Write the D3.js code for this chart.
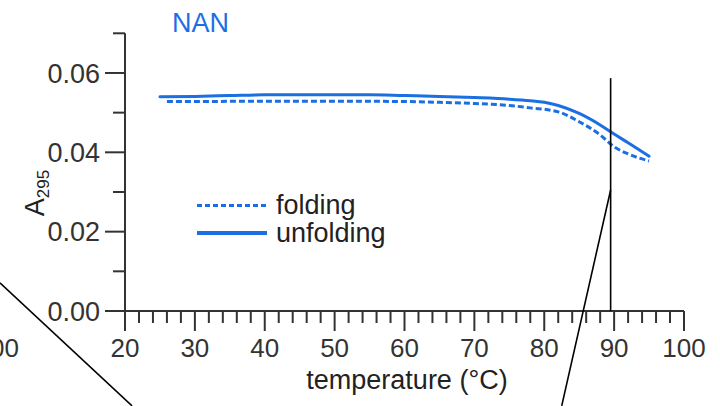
<!DOCTYPE html>
<html>
<head>
<meta charset="utf-8">
<script src="https://cdn.jsdelivr.net/npm/d3@7"></script>
<style>
  html, body { margin: 0; padding: 0; background: #fff; }
  svg { display: block; font-family: "Liberation Sans", Arial, Helvetica, sans-serif; }
</style>
</head>
<body>
<svg id="chart" width="720" height="406"></svg>
<script>
// Absorbance at 295 nm of NAN while heating (unfolding) and cooling (folding)
const unfoldT = [25, 30, 35, 40, 45, 50, 55, 60, 65, 70, 75, 78, 80, 82, 85, 88, 90, 92, 95];
const unfoldA = [0.0540, 0.0541, 0.0543, 0.0545, 0.0545, 0.0545, 0.0545, 0.0543, 0.0541, 0.0538, 0.0534, 0.0530, 0.0526, 0.0518, 0.0498, 0.0469, 0.0446, 0.0424, 0.0390];
const foldT = [26, 30, 40, 50, 60, 65, 70, 75, 78, 82, 85, 88, 90, 92, 95];
const foldA = [0.0528, 0.0528, 0.0529, 0.0529, 0.0528, 0.0526, 0.0523, 0.0518, 0.0512, 0.0502, 0.0477, 0.0444, 0.0414, 0.0396, 0.0378];

const xTicks = [20, 30, 40, 50, 60, 70, 80, 90, 100];
const yTicks = [0.00, 0.02, 0.04, 0.06];
const legendLabels = ["folding", "unfolding"];

// inset guide lines (temperature, absorbance)
const guideVertical = [[89.5, 0.0587], [89.5, 0]];
const guideRight = [[89.5, 0.0305], [82.5, -0.0239]];
const guideLeft = [[2.1, 0.0071], [21.0, -0.0239]];

const blue = "#1c6fe3";
const ink = "#333";
const fontSize = 26;

const svg = d3.select("#chart");

const x = d3.scaleLinear().domain([20, 100]).range([125, 684]);
const y = d3.scaleLinear().domain([0, 0.07]).range([311, 33.3]);

// y axis: ticks every 0.01, labels every 0.02
const yAxis = svg.append("g").attr("transform", `translate(${x(20)},0)`);
yAxis.append("line")
  .attr("x1", 0).attr("x2", 0).attr("y1", y(0.07)).attr("y2", y(0))
  .attr("stroke", ink).attr("stroke-width", 2);
const yMinor = d3.range(0, 8).map(i => i / 100);
yAxis.selectAll("line.tick").data(yMinor).join("line")
  .attr("class", "tick")
  .attr("x1", d => (Math.round(d * 100) % 2 === 0 ? -20 : -12)).attr("x2", 0)
  .attr("y1", d => y(d)).attr("y2", d => y(d))
  .attr("stroke", ink).attr("stroke-width", 2);
yAxis.selectAll("text").data(yTicks).join("text")
  .attr("x", -25).attr("y", d => y(d)).attr("dy", "0.36em")
  .attr("text-anchor", "end").attr("fill", ink)
  .attr("font-size", 27)
  .text(d3.format(".2f"));

// x axis: minor ticks every 2 degrees, labels every 10
const xAxis = svg.append("g").attr("transform", `translate(0,${y(0)})`);
xAxis.append("line")
  .attr("x1", x(20)).attr("x2", x(100)).attr("y1", 0).attr("y2", 0)
  .attr("stroke", ink).attr("stroke-width", 2);
const xMinor = d3.range(20, 101, 2);
xAxis.selectAll("line.tick").data(xMinor).join("line")
  .attr("class", "tick")
  .attr("x1", d => x(d)).attr("x2", d => x(d))
  .attr("y1", 0).attr("y2", d => (d % 10 === 0 ? 20 : 12))
  .attr("stroke", ink).attr("stroke-width", 2);
xAxis.selectAll("text").data(xTicks).join("text")
  .attr("x", d => x(d)).attr("y", 46)
  .attr("text-anchor", "middle").attr("fill", ink)
  .attr("font-size", fontSize)
  .text(d => d);

// edge of the neighbouring panel's axis label
svg.append("text")
  .attr("x", 19).attr("y", 357)
  .attr("text-anchor", "end").attr("fill", ink)
  .attr("font-size", fontSize)
  .text("100");

// axis titles
svg.append("text")
  .attr("x", 407).attr("y", 389)
  .attr("text-anchor", "middle").attr("fill", "#222")
  .attr("font-size", 27)
  .text("temperature (°C)");

const yTitle = svg.append("text")
  .attr("transform", `translate(44,193) rotate(-90)`)
  .attr("text-anchor", "middle").attr("fill", "#222")
  .attr("font-size", 27);
yTitle.append("tspan").text("A");
yTitle.append("tspan").attr("font-size", 17).attr("dy", 5).text("295");

// panel title
svg.append("text")
  .attr("x", 172).attr("y", 32)
  .attr("fill", blue).attr("font-size", 27)
  .text("NAN");

// curves
const line = d3.line()
  .x(d => x(d[0])).y(d => y(d[1]))
  .curve(d3.curveMonotoneX);

const foldPts = foldT.map((t, i) => [t, foldA[i]]);
const unfoldPts = unfoldT.map((t, i) => [t, unfoldA[i]]);

svg.append("path")
  .datum(foldPts)
  .attr("d", line)
  .attr("fill", "none").attr("stroke", blue)
  .attr("stroke-width", 3).attr("stroke-dasharray", "6,3");

svg.append("path")
  .datum(unfoldPts)
  .attr("d", line)
  .attr("fill", "none").attr("stroke", blue)
  .attr("stroke-width", 3).attr("stroke-linecap", "round");

// legend
const legend = svg.append("g");
const legendRows = [
  { label: legendLabels[0], dash: "5,3", width: 3, yPos: 205.5 },
  { label: legendLabels[1], dash: null, width: 4, yPos: 233 }
];
legendRows.forEach(r => {
  legend.append("line")
    .attr("x1", 197).attr("x2", 267).attr("y1", r.yPos).attr("y2", r.yPos)
    .attr("stroke", blue).attr("stroke-width", r.width)
    .attr("stroke-dasharray", r.dash);
  legend.append("text")
    .attr("x", 276).attr("y", r.yPos).attr("dy", "0.33em")
    .attr("fill", "#222").attr("font-size", 27)
    .text(r.label);
});

// inset guide lines
const guide = d3.line().x(d => x(d[0])).y(d => y(d[1]));
[guideVertical, guideRight, guideLeft].forEach(g => {
  svg.append("path")
    .attr("d", guide(g))
    .attr("fill", "none").attr("stroke", "#000").attr("stroke-width", 1.6);
});
</script>
</body>
</html>
